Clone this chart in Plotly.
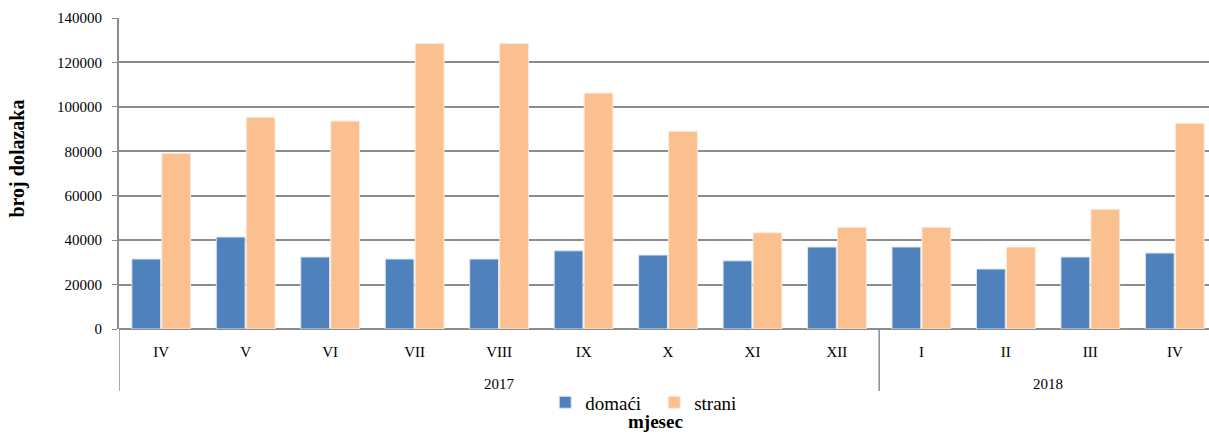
import plotly.graph_objects as go

years = ["2017"] * 9 + ["2018"] * 4
months = ["IV", "V", "VI", "VII", "VIII", "IX", "X", "XI", "XII", "I", "II", "III", "IV"]
domaci = [31500, 41400, 32400, 31500, 31500, 35200, 33300, 30700, 36900, 36900, 27000, 32400, 34200]
strani = [79100, 95300, 93600, 128500, 128500, 106200, 89000, 43300, 45800, 45800, 36900, 53900, 92600]
y_ticks = [0, 20000, 40000, 60000, 80000, 100000, 120000, 140000]

FONT = "Liberation Serif"
GRID = "#8c8c8c"
xpos = list(range(len(months)))

fig = go.Figure()
fig.add_trace(go.Bar(x=xpos, y=domaci, name="domaći",
                     marker=dict(color="#4F81BD", line=dict(color="#dce6f2", width=1))))
fig.add_trace(go.Bar(x=xpos, y=strani, name="strani",
                     marker=dict(color="#FAC090", line=dict(color="#fde9d9", width=1))))

# year group labels and dividers
shapes = []
annotations = []
groups = []
for i, yv in enumerate(years):
    if not groups or groups[-1][0] != yv:
        groups.append([yv, i, i])
    else:
        groups[-1][2] = i
for yv, a, b in groups:
    annotations.append(dict(text=yv, x=(a + b) / 2, xref="x", y=-0.177, yref="paper",
                            yanchor="middle", showarrow=False,
                            font=dict(family=FONT, size=15, color="black")))
    shapes.append(dict(type="line", xref="x", yref="paper", x0=a - 0.5, x1=a - 0.5,
                       y0=0, y1=-0.199, line=dict(color=GRID, width=1.5)))

annotations.append(dict(text="<b>mjesec</b>", xref="paper", yref="paper", x=0.492, y=-0.299,
                        yanchor="middle", showarrow=False, borderpad=0,
                        font=dict(family=FONT, size=19, color="black")))
annotations.append(dict(text="<b>broj dolazaka</b>", xref="paper", yref="paper",
                        x=-0.0927, y=0.548, xanchor="center", yanchor="middle",
                        textangle=-90, showarrow=False,
                        font=dict(family=FONT, size=20, color="black")))

fig.update_layout(
    width=1209, height=435,
    margin=dict(l=119, r=0, t=18, b=106),
    paper_bgcolor="white", plot_bgcolor="white",
    barmode="group", bargap=0.29, bargroupgap=0.04,
    font=dict(family=FONT, size=15, color="black"),
    showlegend=True,
    legend=dict(orientation="h", x=0.491, xanchor="center", y=-0.236, yanchor="middle",
                font=dict(family=FONT, size=19, color="black"), itemwidth=30,
                entrywidth=64, entrywidthmode="pixels",
                traceorder="normal"),
    xaxis=dict(range=[-0.5, len(months) - 0.595], tickvals=xpos, ticktext=months,
               showline=False, showgrid=False, ticks="", ticklabelstandoff=12,
               zeroline=False, tickfont=dict(family=FONT, size=15)),
    yaxis=dict(range=[0, 140000], tickvals=y_ticks, tickformat="d",
               showgrid=True, gridcolor=GRID, gridwidth=2,
               showline=True, linecolor=GRID, linewidth=2,
               ticks="outside", ticklen=5, tickcolor=GRID, ticklabelstandoff=7,
               tickfont=dict(family=FONT, size=15),
               zeroline=True, zerolinecolor=GRID, zerolinewidth=2),
    shapes=shapes,
    annotations=annotations,
)

fig.write_html("out.html", config={"displayModeBar": False},
               post_script="document.body.style.margin='0';")
